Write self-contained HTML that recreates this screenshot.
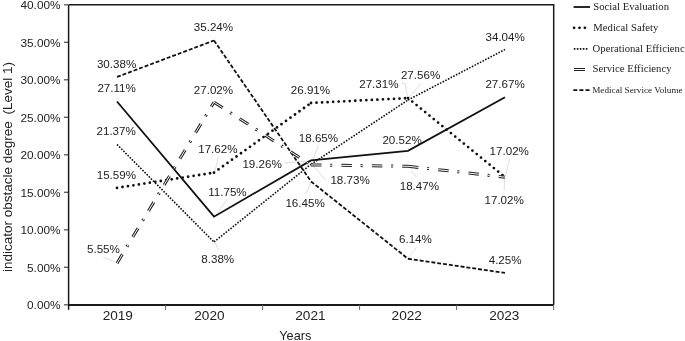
<!DOCTYPE html>
<html><head><meta charset="utf-8"><style>
html,body{margin:0;padding:0;background:#fff;width:685px;height:341px;overflow:hidden;}
svg{display:block;will-change:transform;}
</style></head><body>
<svg width="685" height="341" viewBox="0 0 685 341">
<g stroke="#d6d6d6" stroke-width="0.8" fill="none">
<path d="M103.3 257 L115.2 262.3"/>
<path d="M218.7 156.3 L214.5 172.1"/>
<path d="M227.6 199.1 L215.9 215.0"/>
<path d="M214.9 242.3 L218.8 250"/>
<path d="M318.4 145.5 L312.6 160.2"/>
<path d="M284 163.1 L308.9 160.9"/>
<path d="M325.5 179.7 L313.7 166.5"/>
<path d="M305.7 194.3 L310.8 182.6"/>
<path d="M401.3 83.3 L405 83.3"/>
<path d="M405 83.3 L407.9 98"/>
<path d="M421.1 83.3 L408.7 98"/>
<path d="M411 171.2 L417 177.4"/>
<path d="M416.6 247.3 L409 257.2"/>
<path d="M509.7 158.7 L505.3 176.3"/>
<path d="M504.7 178.5 L504.2 190.5"/>
</g>
<g stroke="#1a1a1a" fill="none">
<path d="M68.6 4.8 H553.7 V304.8" stroke-width="1.5"/>
<path d="M68.6 4.8 V309.8" stroke-width="1.5"/>
<path d="M68.6 304.9 H553.7" stroke-width="2"/>
</g>
<g stroke="#555" stroke-width="1.3">
<path d="M64 304.8 H68"/>
<path d="M64 267.3 H68"/>
<path d="M64 229.8 H68"/>
<path d="M64 192.3 H68"/>
<path d="M64 154.8 H68"/>
<path d="M64 117.3 H68"/>
<path d="M64 79.8 H68"/>
<path d="M64 42.3 H68"/>
<path d="M64 4.8 H68"/>
</g>
<g stroke="#666" stroke-width="1">
<path d="M165.6 305 V310"/>
<path d="M262.6 305 V310"/>
<path d="M359.6 305 V310"/>
<path d="M456.6 305 V310"/>
<path d="M553.6 305 V310"/>
</g>
<g font-family="Liberation Sans, sans-serif" font-size="11.8" fill="#222" text-anchor="end">
<text x="60.5" y="309.1">0.00%</text>
<text x="60.5" y="271.6">5.00%</text>
<text x="60.5" y="234.1">10.00%</text>
<text x="60.5" y="196.6">15.00%</text>
<text x="60.5" y="159.1">20.00%</text>
<text x="60.5" y="121.6">25.00%</text>
<text x="60.5" y="84.1">30.00%</text>
<text x="60.5" y="46.6">35.00%</text>
<text x="60.5" y="9.1">40.00%</text>
</g>
<g font-family="Liberation Sans, sans-serif" font-size="13.6" fill="#222">
<text x="102.7" y="320">2019</text>
<text x="194.3" y="320">2020</text>
<text x="295.3" y="320">2021</text>
<text x="391.6" y="320">2022</text>
<text x="489.2" y="320">2023</text>
</g>
<text x="279.3" y="339.8" font-family="Liberation Sans, sans-serif" font-size="12.7" fill="#222">Years</text>
<g font-family="Liberation Sans, sans-serif" font-size="13.5" fill="#222">
<text transform="translate(11.8,272) rotate(-90)">indicator obstacle degree</text>
<text transform="translate(12.2,61.9) rotate(-90)" text-anchor="end">(Level 1)</text>
</g>
<polyline points="117.00,101.48 214.00,216.68 311.00,160.35 408.00,150.90 505.00,97.28" fill="none" stroke="#111" stroke-width="1.8"/>
<path d="M117.00 76.95 L214.00 40.50" fill="none" stroke="#111" stroke-width="1.8" stroke-dasharray="3.95 1.95"/>
<path d="M214.00 40.50 L311.00 181.43" fill="none" stroke="#111" stroke-width="1.8" stroke-dasharray="3.95 1.95"/>
<path d="M311.00 181.43 L408.00 258.75" fill="none" stroke="#111" stroke-width="1.8" stroke-dasharray="3.95 1.95"/>
<path d="M408.00 258.75 L505.00 272.93" fill="none" stroke="#111" stroke-width="1.8" stroke-dasharray="3.95 1.95"/>
<path d="M117.00 144.53 L214.00 241.95" fill="none" stroke="#111" stroke-width="1.6" stroke-dasharray="1.6 1.4"/>
<path d="M214.00 241.95 L311.00 164.33" fill="none" stroke="#111" stroke-width="1.6" stroke-dasharray="1.6 1.4"/>
<path d="M311.00 164.33 L408.00 99.98" fill="none" stroke="#111" stroke-width="1.6" stroke-dasharray="1.6 1.4"/>
<path d="M408.00 99.98 L505.00 49.50" fill="none" stroke="#111" stroke-width="1.6" stroke-dasharray="1.6 1.4"/>
<path d="M117.00 187.88 L214.00 172.65" fill="none" stroke="#111" stroke-width="2.8" stroke-linecap="round" stroke-dasharray="0 5.54"/>
<path d="M214.00 172.65 L311.00 102.98" fill="none" stroke="#111" stroke-width="2.8" stroke-linecap="round" stroke-dasharray="0 5.54"/>
<path d="M311.00 102.98 L408.00 98.10" fill="none" stroke="#111" stroke-width="2.8" stroke-linecap="round" stroke-dasharray="0 5.54"/>
<path d="M408.00 98.10 L505.00 177.15" fill="none" stroke="#111" stroke-width="2.8" stroke-linecap="round" stroke-dasharray="0 5.54"/>
<path d="M117.00 263.18 L214.00 102.15" fill="none" stroke="#222" stroke-width="3.0" stroke-dasharray="10.4 8.8 2.0 9.25"/>
<path d="M214.00 102.15 L311.00 164.93" fill="none" stroke="#222" stroke-width="3.0" stroke-dasharray="10.4 8.8 2.0 9.25"/>
<path d="M311.00 164.93 L408.00 166.28" fill="none" stroke="#222" stroke-width="3.0" stroke-dasharray="10.4 8.8 2.0 9.25"/>
<path d="M408.00 166.28 L505.00 177.15" fill="none" stroke="#222" stroke-width="3.0" stroke-dasharray="10.4 8.8 2.0 9.25"/>
<path d="M117.00 263.18 L214.00 102.15" fill="none" stroke="#fff" stroke-width="1.0" stroke-dasharray="10.4 8.8 2.0 9.25"/>
<path d="M214.00 102.15 L311.00 164.93" fill="none" stroke="#fff" stroke-width="1.0" stroke-dasharray="10.4 8.8 2.0 9.25"/>
<path d="M311.00 164.93 L408.00 166.28" fill="none" stroke="#fff" stroke-width="1.0" stroke-dasharray="10.4 8.8 2.0 9.25"/>
<path d="M408.00 166.28 L505.00 177.15" fill="none" stroke="#fff" stroke-width="1.0" stroke-dasharray="10.4 8.8 2.0 9.25"/>
<g font-family="Liberation Sans, sans-serif" font-size="11.6" fill="#222">
<text x="96.9" y="68.2">30.38%</text>
<text x="97.4" y="92.4">27.11%</text>
<text x="96.5" y="135.2">21.37%</text>
<text x="96.7" y="178.6">15.59%</text>
<text x="87.0" y="252.9">5.55%</text>
<text x="193.8" y="31.3">35.24%</text>
<text x="193.8" y="93.5">27.02%</text>
<text x="198.2" y="152.9">17.62%</text>
<text x="208.2" y="195.8">11.75%</text>
<text x="201.3" y="262.5">8.38%</text>
<text x="290.8" y="93.7">26.91%</text>
<text x="298.8" y="142.3">18.65%</text>
<text x="242.4" y="167.9">19.26%</text>
<text x="330.4" y="183.7">18.73%</text>
<text x="285.4" y="206.7">16.45%</text>
<text x="359.2" y="87.5">27.31%</text>
<text x="400.9" y="79.3">27.56%</text>
<text x="382.4" y="143.6">20.52%</text>
<text x="399.7" y="190.0">18.47%</text>
<text x="399.0" y="242.7">6.14%</text>
<text x="485.5" y="41.0">34.04%</text>
<text x="485.4" y="88.4">27.67%</text>
<text x="489.6" y="154.7">17.02%</text>
<text x="484.5" y="204.1">17.02%</text>
<text x="488.7" y="264.4">4.25%</text>
</g>
<g stroke="#111" fill="none">
<path d="M573.6 7 H590" stroke-width="1.8"/>
<path d="M574.1 27.8 H585.1" stroke-width="2.8" stroke-linecap="round" stroke-dasharray="0 5.4"/>
<path d="M573.8 48.9 H588" stroke-width="1.6" stroke-dasharray="1.6 1.4"/>
<path d="M574 69.5 H585" stroke-width="3.0" stroke="#222"/>
<path d="M574 69.5 H585" stroke-width="1.0" stroke="#fff"/>
<path d="M573.3 90.1 H589.5" stroke-width="1.8" stroke-dasharray="4 2.1"/>
</g>
<g font-family="Liberation Serif, serif" font-size="10.7" fill="#222">
<text x="593.3" y="9.5">Social Evaluation</text>
<text x="593.3" y="30.6">Medical Safety</text>
<text x="592.6" y="52">Operational Efficiency</text>
<text x="592.5" y="72.2">Service Efficiency</text>
<text x="592.2" y="92.9" font-size="9.2">Medical Service Volume</text>
</g>
</svg>
</body></html>
